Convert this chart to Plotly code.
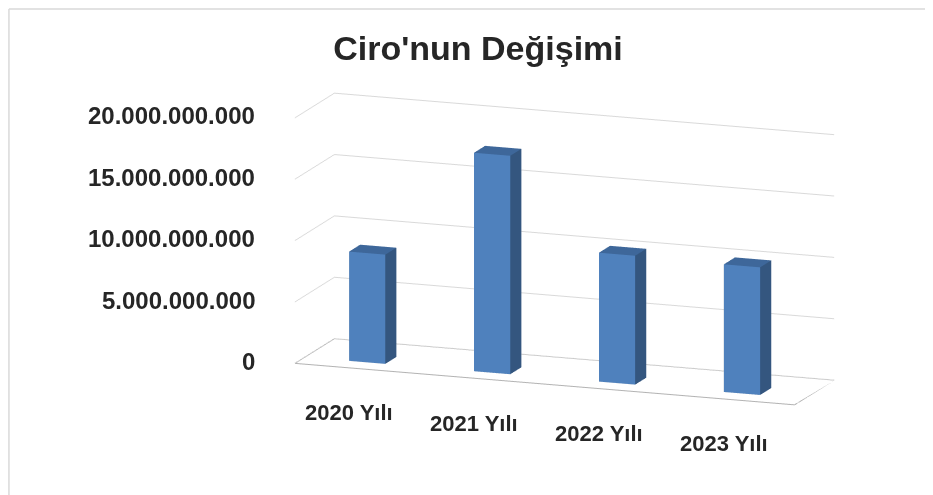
import plotly.graph_objects as go

# ---- data ----
categories = ["2020 Yılı", "2021 Yılı", "2022 Yılı", "2023 Yılı"]
ciro = [8.9e9, 17.8e9, 10.5e9, 10.4e9]
tick_vals = [0, 5e9, 10e9, 15e9, 20e9]
tick_text = ["0", "5.000.000.000", "10.000.000.000", "15.000.000.000", "20.000.000.000"]

title_text = "Ciro'nun Değişimi"

# ---- styling ----
FRONT = "#4F81BD"
SIDE = "#34567F"
TOP = "#3E679A"
BAR_W = 0.29          # fraction of a category slot
D0, D1 = 0.25, 0.53   # bar depth span inside the floor (0..1)
FONT = "Liberation Sans, Arial, sans-serif"
TXT = "#262626"

W, H = 933, 495
ZMAX = 20e9
SCALE = 1.046

# ---- 3D boxes built from the data ----
xs, ys, zs = [], [], []
I, J, K, fc = [], [], [], []
for idx, v in enumerate(ciro):
    x0, x1 = idx - BAR_W / 2, idx + BAR_W / 2
    base = len(xs)
    corners = [(x0, D0, 0), (x1, D0, 0), (x1, D1, 0), (x0, D1, 0),
               (x0, D0, v), (x1, D0, v), (x1, D1, v), (x0, D1, v)]
    for cx, cy, cz in corners:
        xs.append(cx); ys.append(cy); zs.append(cz)
    faces = [
        ((0, 1, 5), FRONT), ((0, 5, 4), FRONT),   # front
        ((1, 2, 6), SIDE), ((1, 6, 5), SIDE),     # right side
        ((4, 5, 6), TOP), ((4, 6, 7), TOP),       # top
        ((3, 2, 6), SIDE), ((3, 6, 7), SIDE),     # back
        ((0, 3, 7), SIDE), ((0, 7, 4), SIDE),     # left
        ((0, 1, 2), SIDE), ((0, 2, 3), SIDE),     # bottom
    ]
    for (a, b, c), col in faces:
        I.append(base + a); J.append(base + b); K.append(base + c); fc.append(col)

bars = go.Mesh3d(
    x=xs, y=ys, z=zs, i=I, j=J, k=K, facecolor=fc, flatshading=True,
    lighting=dict(ambient=1.0, diffuse=0.0, specular=0.0, roughness=1.0, fresnel=0.0),
    hoverinfo="skip", showscale=False,
)

# floor outline
xr = [-0.5, len(categories) - 0.5]
floor = go.Scatter3d(
    x=[xr[0], xr[1], xr[1], xr[0], xr[0]], y=[0, 0, 1, 1, 0], z=[0, 0, 0, 0, 0],
    mode="lines", line=dict(color="#B3B3B3", width=2), hoverinfo="skip", showlegend=False,
)

fig = go.Figure([bars, floor])

# tick labels as scene annotations (flat 2D text, anchored in 3D)
annotations = []
for v, t in zip(tick_vals, tick_text):
    annotations.append(dict(x=xr[0], y=0, z=v, text=t, showarrow=False, xanchor="right",
                            xshift=-38, yshift=2,
                            font=dict(family=FONT, size=24, color=TXT, weight="bold")))
for i, c in enumerate(categories):
    annotations.append(dict(x=i, y=0, z=0, text=c, showarrow=False, xanchor="center",
                            xshift=-8, yshift=-44,
                            font=dict(family=FONT, size=22, color=TXT, weight="bold")))

axis_common = dict(showspikes=False, showbackground=False, title=dict(text=""),
                   showticklabels=False, ticks="", zeroline=False, showline=False)

fig.update_layout(
    width=W, height=H,
    margin=dict(l=0, r=0, t=0, b=0),
    paper_bgcolor="white",
    showlegend=False,
    title=dict(text=title_text, x=470 / W, xanchor="center", y=1 - 40 / H, yanchor="middle",
               font=dict(family=FONT, size=34, color=TXT, weight="bold")),
    scene=dict(
        domain=dict(x=[0.1929, 1.0], y=[0.026, 1.0]),
        xaxis=dict(range=xr, showgrid=False, **axis_common),
        yaxis=dict(range=[0, 1], showgrid=False, **axis_common),
        zaxis=dict(range=[0, ZMAX], tickvals=tick_vals, showgrid=True, gridcolor="#D9D9D9",
                   gridwidth=2, **axis_common),
        aspectmode="manual",
        aspectratio=dict(x=2.11 * SCALE, y=0.4586 * SCALE, z=1.0 * SCALE),
        camera=dict(eye=dict(x=0.7525, y=-2.0647, z=0.5141), center=dict(x=0, y=0, z=0),
                    up=dict(x=0, y=0, z=1), projection=dict(type="orthographic")),
        annotations=annotations,
    ),
    shapes=[
        dict(type="line", xref="paper", yref="paper", x0=0.001, x1=1, y0=0.998, y1=0.998,
             line=dict(color="#D9D9D9", width=1.5)),
        dict(type="line", xref="paper", yref="paper", x0=0.001, x1=0.001, y0=0, y1=0.998,
             line=dict(color="#D9D9D9", width=1.5)),
    ],
)

fig.write_html("out.html", config={"displayModeBar": False})
